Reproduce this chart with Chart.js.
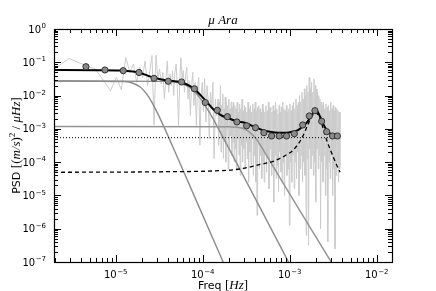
<!DOCTYPE html>
<html>
<head>
<meta charset="utf-8">
<script src="https://cdn.jsdelivr.net/npm/chart.js@4/dist/chart.umd.min.js"></script>
<style>
html,body{margin:0;padding:0;background:#fff;}
canvas{display:block;}
</style>
</head>
<body>
<canvas id="c" width="436" height="291"></canvas>
<script>
// ---------------- DATA ----------------
// raw power spectrum (frequency in microHz, PSD in (m/s)^2/microHz)
const rawFreqMicroHz = [
1.45,2.9,4.35,5.8,7.25,8.7,10.15,11.6,13.05,14.5,15.95,17.4,18.85,20.3,21.75,23.2,24.65,26.1,27.55,29.0,30.45,31.9,33.35,34.8,36.25,37.7,39.15,40.6,42.05,43.5,
45,46.4,47.9,49.5,51,52.7,54.4,56.1,57.9,59.7,61.6,63.6,65.6,67.7,69.9,72.1,74.4,76.8,79.3,81.8,84.4,87.1,89.9,92.8,95.8,98.8,
102,105,109,112,116,119,123,127,131,135,140,144,
150,152.4,154.8,157.3,159.8,162.4,165,167.6,170.3,173,175.8,178.6,181.5,184.4,187.3,190.3,193.4,196.5,199.6,202.8,206,209.3,212.7,216.1,219.5,223,226.6,
230.2,233.9,237.7,241.5,245.3,249.2,253.2,257.3,261.4,265.6,269.8,274.1,278.5,283,287.5,292.1,296.8,301.5,306.3,311.2,316.2,321.3,326.4,331.6,336.9,342.3,347.8,353.4,359,364.7,370.6,376.5,382.5,388.6,394.9,401.2,407.6,414.1,420.7,427.5,434.3,441.3,448.3,455.5,462.8,470.2,477.7,485.3,493.1,
501,509,517.1,525.4,533.8,542.3,551,559.8,568.8,577.9,587.1,596.5,606,615.7,625.6,635.6,645.7,656,666.5,677.2,688,699,710.2,721.6,733.1,744.8,756.8,768.9,781.2,793.7,806.4,819.3,832.4,845.7,859.2,873,886.9,901.1,915.5,930.2,945.1,960.2,975.6,991.2,1007,1023,1040,1056,1073,1090,
1108,1126,1144,1162,1181,1200,1219,1238,1258,1278,1299,1319,1341,1362,1384,1406,1429,1452,1475,
1498,1522,1547,1571,1597,1622,1648,1675,1701,1729,1756,1784,1813,1842,1872,1902,1932,1963,1995,2027,2059,2092,2125,2159,2194,2229,2265,
2301,2338,2376,2414,2452,2492,2532,2572,2613,2655,2698,2741,2785,2830,2875,2921,2968,3015,3064,3113,3163,3213,3265,3317,3370,3424,3479,3535,3591,3649,3707,3766,3800];
const rawPsd = [
0.035,0.13,0.083,0.063,0.028,0.014,0.035,0.015,0.14,0.05,0.089,0.025,0.071,0.035,0.11,0.02,0.056,0.16,0.0013,0.166,0.032,0.063,0.022,0.05,0.008,0.032,0.11,0.0126,0.045,0.02,
0.056,0.01,0.05,0.089,0.016,0.00126,0.025,0.14,0.032,0.056,0.0126,0.04,0.071,0.0079,0.028,0.0025,0.02,0.05,0.005,0.025,0.00126,0.016,0.035,3.2e-4,0.01,0.025,
0.0032,0.032,0.0016,0.02,0.0063,5e-4,0.0126,0.004,0.025,1.26e-4,0.0079,0.0025,
0.0079,3.2e-4,0.0063,1e-3,0.02,2e-4,0.005,6.3e-4,0.0112,1.3e-4,0.004,4e-4,0.0089,1e-4,0.0063,1e-3,0.005,6.3e-5,0.0079,2.5e-4,0.004,6.3e-4,0.0063,1.6e-4,0.0045,4e-4,0.0063,
1e-4,0.005,2.5e-4,0.004,6.3e-5,0.0063,5e-4,0.0032,1.6e-4,0.0056,4e-5,0.004,3.2e-4,0.0079,1e-4,0.0035,2.5e-4,0.005,6.3e-5,0.0045,4e-4,0.0032,1.26e-4,0.0063,2.5e-5,0.004,2e-4,0.005,8e-5,0.0032,5e-4,0.0056,4e-5,0.004,1.6e-4,0.0063,2.5e-5,0.0035,2.5e-6,0.0045,3.2e-4,0.005,6.3e-5,0.004,1.6e-4,0.0032,3.2e-5,0.0056,1e-4,
0.004,2.5e-5,0.0032,2e-4,0.005,5e-5,0.0035,1.26e-4,0.0063,1.6e-5,0.004,2.5e-4,0.0045,4e-5,0.0032,1e-4,0.005,6.3e-6,0.0035,1.6e-4,0.0063,3.2e-5,0.004,8e-5,0.0028,1.3e-5,0.005,2e-4,0.0032,5e-5,0.0045,2.5e-5,0.0063,1e-4,0.004,1e-5,0.0035,1.6e-4,0.005,4e-5,0.0032,6.3e-5,0.004,1.26e-6,0.0056,1e-4,0.0035,2.5e-5,0.005,1.6e-4,
0.0063,1.6e-5,0.004,1e-4,0.0079,3.2e-5,0.005,2e-4,0.0063,1e-5,0.01,6.3e-5,0.0063,1.6e-4,0.0126,2.5e-5,0.0079,1e-4,0.016,
4e-5,0.01,6.3e-7,0.02,1.26e-4,0.0126,3.2e-7,0.035,2.5e-4,0.016,6.3e-5,0.025,1.6e-4,0.0126,4e-5,0.032,1e-4,0.02,6.3e-6,0.0158,2.5e-4,0.0126,6.3e-5,0.01,1.6e-4,0.0079,1e-6,
0.0063,1e-4,0.005,2.5e-5,0.0063,1.6e-4,0.004,1e-5,0.0056,6.3e-5,0.0045,4e-7,0.005,1e-4,0.0035,3.2e-5,0.0063,1.6e-4,0.004,1e-5,0.005,6.3e-5,0.0035,2.5e-7,0.0045,4e-5,0.004,1e-4,0.0035,2.5e-5,0.0032,6.3e-5,0.0032];

// binned spectrum (Hz, PSD)
const binFreq = [4.54e-6,7.51e-6,1.22e-5,1.85e-5,2.75e-5,4.01e-5,5.71e-5,8.03e-5,1.07e-4,1.47e-4,1.92e-4,2.47e-4,3.20e-4,4.04e-4,5.05e-4,6.19e-4,7.57e-4,9.20e-4,1.13e-3,1.41e-3,1.68e-3,1.95e-3,2.33e-3,2.66e-3,3.11e-3,3.53e-3];
const binPsd  = [0.0737,0.0587,0.0559,0.0493,0.0330,0.0269,0.0256,0.0160,0.00619,0.00361,0.00232,0.00161,0.00124,0.00108,7.67e-4,6.11e-4,6.11e-4,6.11e-4,7.16e-4,1.31e-3,2.44e-3,3.52e-3,1.69e-3,8.22e-4,6.11e-4,6.11e-4];

// total fit
const fitFreq = [1.95e-6,6.31e-6,1.12e-5,1.58e-5,2.0e-5,2.51e-5,3.16e-5,3.98e-5,5.01e-5,5.71e-5,7.08e-5,8.13e-5,9.55e-5,1.11e-4,1.32e-4,1.58e-4,2.0e-4,2.45e-4,3.16e-4,3.80e-4,4.79e-4,5.92e-4,7.41e-4,9.20e-4,1.10e-3,1.26e-3,1.41e-3,1.56e-3,1.74e-3,1.91e-3,2.0e-3,2.09e-3,2.22e-3,2.40e-3,2.65e-3,2.95e-3,3.31e-3,3.78e-3];
const fitPsd  = [0.0582,0.0579,0.0569,0.0528,0.0462,0.0372,0.0316,0.0285,0.0266,0.0248,0.0195,0.0151,0.0100,0.00646,0.00389,0.00269,0.00204,0.0017,0.00148,0.0012,9.33e-4,8.13e-4,7.59e-4,7.59e-4,8.32e-4,9.33e-4,1.17e-3,1.51e-3,2.29e-3,3.31e-3,3.67e-3,3.31e-3,2.40e-3,1.51e-3,9.33e-4,7.08e-4,6.17e-4,5.82e-4];

// granulation component 1
const granAFreq = [1.95e-6,1.26e-5,1.58e-5,1.91e-5,2.12e-5,2.40e-5,2.82e-5,3.55e-5,5.01e-5,1.0e-4,2.0e-4];
const granAPsd  = [0.0275,0.0264,0.0235,0.0181,0.0138,0.00893,0.00426,0.00121,1.58e-4,2.52e-6,3.98e-8];
// granulation component 2
const granBFreq = [1.95e-6,3.98e-5,5.62e-5,7.08e-5,7.94e-5,8.91e-5,1.0e-4,1.12e-4,1.26e-4,1.58e-4,2.51e-4,5.01e-4,1.0e-3];
const granBPsd  = [0.0275,0.0267,0.0233,0.0175,0.0136,0.00977,0.0065,0.00408,0.00246,8.24e-4,8.39e-5,2.69e-6,8.5e-8];
// third (activity) component
const granCFreq = [1.95e-6,2.0e-4,2.51e-4,2.95e-4,3.39e-4,3.80e-4,4.27e-4,4.79e-4,5.50e-4,7.94e-4,1.58e-3,2.90e-3,3.55e-3];
const granCPsd  = [1.17e-3,1.16e-3,1.11e-3,1.02e-3,8.3e-4,6.3e-4,4.37e-4,2.75e-4,1.48e-4,3.0e-5,1.55e-6,1.15e-7,4.8e-8];
// oscillation excess (dashed)
const oscFreq = [1.95e-6,3.16e-5,1.58e-4,2.69e-4,4.57e-4,6.46e-4,9.12e-4,1.10e-3,1.38e-3,1.62e-3,1.82e-3,2.0e-3,2.19e-3,2.40e-3,2.66e-3,3.16e-3,3.61e-3,3.80e-3];
const oscPsd  = [4.95e-5,5.13e-5,5.55e-5,6.24e-5,8.51e-5,1.06e-4,1.64e-4,2.32e-4,5.25e-4,1.35e-3,2.51e-3,3.09e-3,2.24e-3,1.12e-3,4.62e-4,1.45e-4,6.46e-5,5.0e-5];
// white noise (dotted)
const noiseFreq = [1.95e-6,3.8e-3];
const noisePsd  = [5.43e-4,5.43e-4];

// axes
const xRange = [1.95e-6, 1.5e-2];
const yRange = [1e-7, 1];
const xTickValues = [1e-5,1e-4,1e-3,1e-2];
const xTickExps = ['\u22125','\u22124','\u22123','\u22122'];
const yTickValues = [1,1e-1,1e-2,1e-3,1e-4,1e-5,1e-6,1e-7];
const yTickExps = ['0','\u22121','\u22122','\u22123','\u22124','\u22125','\u22126','\u22127'];
const titleText = ['\u03bc', ' Ara'];

// ---------------- BUILD ----------------
const pts = (fx, fy, scale) => fx.map((f, i) => ({x: f * (scale || 1), y: fy[i]}));

const lineDs = (data, color, width, extra) => Object.assign({
  type: 'line', data, borderColor: color, borderWidth: width, pointRadius: 0,
  fill: false, tension: 0, cubicInterpolationMode: 'monotone'
}, extra || {});

const SANS = '"DejaVu Sans"';
const SERIF = '"Liberation Serif"';

function drawRich(ctx, pieces, cx, base) {
  let total = 0;
  pieces.forEach(p => { ctx.font = p[1]; total += ctx.measureText(p[0]).width; });
  let x = cx - total / 2;
  pieces.forEach(p => {
    ctx.font = p[1];
    ctx.fillText(p[0], x, base + (p[2] || 0));
    x += ctx.measureText(p[0]).width;
  });
}

function drawPow(ctx, exp, x, base, align) {
  ctx.font = '10px ' + SANS; const w1 = ctx.measureText('10').width;
  ctx.font = '7px ' + SANS; const w2 = ctx.measureText(exp).width;
  const x0 = align === 'center' ? x - (w1 + w2 + 0.5) / 2 : x - (w1 + w2 + 0.5);
  ctx.font = '10px ' + SANS; ctx.fillText('10', x0, base);
  ctx.font = '7px ' + SANS; ctx.fillText(exp, x0 + w1 + 0.5, base - 4.5);
}

const framePlugin = {
  id: 'frame',
  afterDraw(chart) {
    const ctx = chart.ctx;
    const {left, right, top, bottom} = chart.chartArea;
    const xs = chart.scales.x, ys = chart.scales.y;
    ctx.save();
    ctx.strokeStyle = '#000';
    ctx.lineWidth = 1;
    ctx.beginPath();
    for (let d = -6; d <= -2; d++) {
      for (let m = 1; m <= 9; m++) {
        const v = m * Math.pow(10, d);
        if (v < xRange[0] || v > xRange[1]) continue;
        const px = Math.round(xs.getPixelForValue(v)) + 0.5;
        const len = m === 1 ? 7 : 4;
        ctx.moveTo(px, bottom); ctx.lineTo(px, bottom - len);
        ctx.moveTo(px, top); ctx.lineTo(px, top + len);
      }
    }
    for (let d = -7; d <= 0; d++) {
      for (let m = 1; m <= 9; m++) {
        const v = m * Math.pow(10, d);
        if (v < yRange[0] || v > yRange[1]) continue;
        const py = Math.round(ys.getPixelForValue(v)) + 0.5;
        const len = m === 1 ? 7 : 4;
        ctx.moveTo(left, py); ctx.lineTo(left + len, py);
        ctx.moveTo(right, py); ctx.lineTo(right - len, py);
      }
    }
    ctx.stroke();
    ctx.lineWidth = 1.2;
    ctx.strokeRect(Math.round(left) + 0.5, Math.round(top) + 0.5, Math.round(right - left), Math.round(bottom - top));

    ctx.fillStyle = '#000';
    ctx.textBaseline = 'alphabetic';
    ctx.textAlign = 'left';
    xTickValues.forEach((v, i) => drawPow(ctx, xTickExps[i], xs.getPixelForValue(v), 278, 'center'));
    yTickValues.forEach((v, i) => drawPow(ctx, yTickExps[i], 46, ys.getPixelForValue(v) + 3.6, 'right'));

    drawRich(ctx, [[titleText[0], 'italic 13px ' + SERIF], [titleText[1], 'italic 13px ' + SERIF]], (left + right) / 2, 24);
    drawRich(ctx, [['Freq ', '11px ' + SANS], ['[', '13px ' + SERIF], ['Hz', 'italic 13px ' + SERIF], [']', '13px ' + SERIF]], (left + right) / 2, 289);
    ctx.save();
    ctx.translate(20, (top + bottom) / 2);
    ctx.rotate(-Math.PI / 2);
    drawRich(ctx, [
      ['PSD ', '11px ' + SANS],
      ['[(', '13px ' + SERIF],
      ['m/s', 'italic 13px ' + SERIF],
      [')', '13px ' + SERIF],
      ['2', '9px ' + SERIF, -5],
      [' / ', '13px ' + SERIF],
      ['\u03bcHz', 'italic 13px ' + SERIF],
      [']', '13px ' + SERIF]
    ], 0, 0);
    ctx.restore();
    ctx.restore();
  }
};

new Chart(document.getElementById('c').getContext('2d'), {
  type: 'line',
  data: {
    datasets: [
      {type: 'scatter', data: pts(binFreq, binPsd), pointRadius: 3.1, pointBackgroundColor: '#8a8a8a',
       pointBorderColor: '#333', pointBorderWidth: 1, showLine: false, order: 0},
      lineDs(pts(fitFreq, fitPsd), '#000', 2, {order: 1}),
      lineDs(pts(oscFreq, oscPsd), '#000', 1.3, {order: 2, borderDash: [4, 3]}),
      lineDs(pts(noiseFreq, noisePsd), '#000', 1, {order: 3, borderDash: [1, 2], cubicInterpolationMode: 'default'}),
      lineDs(pts(granCFreq, granCPsd), '#959595', 1.5, {order: 4}),
      lineDs(pts(granBFreq, granBPsd), '#8c8c8c', 1.4, {order: 5}),
      lineDs(pts(granAFreq, granAPsd), '#8c8c8c', 1.4, {order: 6}),
      lineDs(pts(rawFreqMicroHz, rawPsd, 1e-6), '#cccccc', 1, {order: 10, cubicInterpolationMode: 'default'})
    ]
  },
  options: {
    responsive: false,
    animation: false,
    devicePixelRatio: 1,
    layout: {padding: {left: 54, right: 44, top: 29, bottom: 29}},
    elements: {line: {capBezierPoints: false}},
    plugins: {legend: {display: false}, tooltip: {enabled: false}, title: {display: false}},
    scales: {
      x: {type: 'logarithmic', min: xRange[0], max: xRange[1], display: false},
      y: {type: 'logarithmic', min: yRange[0], max: yRange[1], display: false}
    }
  },
  plugins: [framePlugin]
});
</script>
</body>
</html>
